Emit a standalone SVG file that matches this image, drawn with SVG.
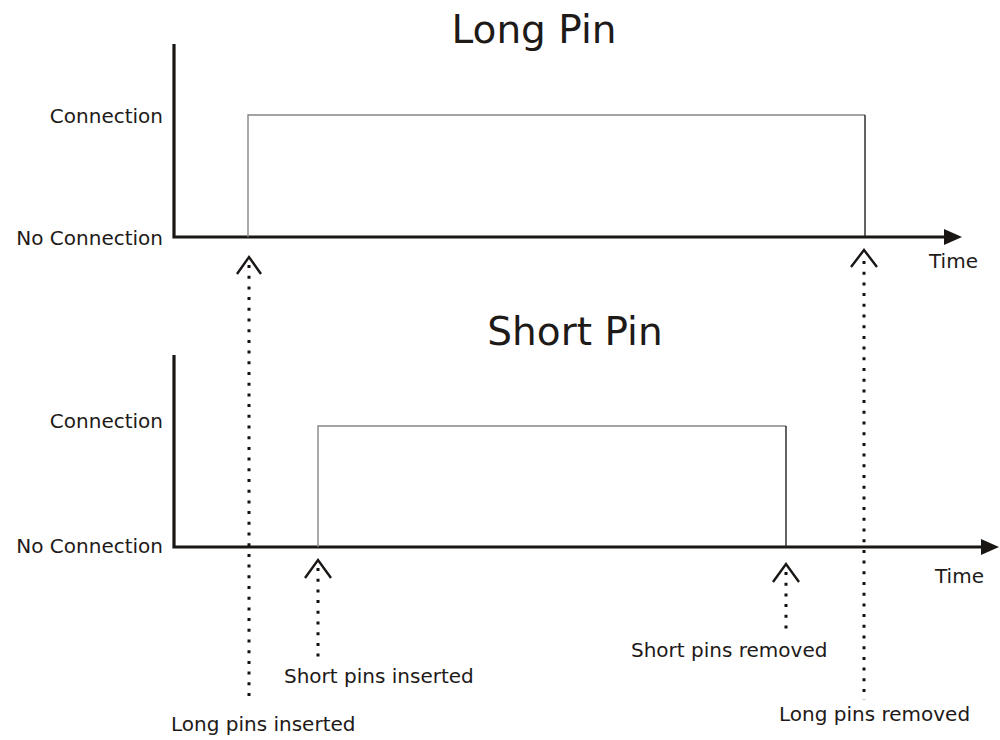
<svg xmlns="http://www.w3.org/2000/svg" width="1000" height="740" viewBox="0 0 1000 740">
  <style>
    .title { font-family: "DejaVu Sans", "Liberation Sans", sans-serif; font-size: 39px; fill: #1e1a18; text-anchor: middle; }
    .lbl { font-family: "DejaVu Sans", "Liberation Sans", sans-serif; font-size: 20px; fill: #1e1a18; }
    .right { text-anchor: end; }
    .axis { fill: none; stroke: #1a1614; stroke-width: 3.2; }
    .pulse-a { fill: none; stroke: #858585; stroke-width: 1.4; }
    .pulse-b { fill: none; stroke: #222; stroke-width: 1.4; }
    .caret { fill: none; stroke: #1a1614; stroke-width: 2.4; stroke-linejoin: miter; }
    .dots { fill: none; stroke: #111; stroke-width: 3; stroke-dasharray: 3 7.7; }
  </style>
  <defs>
    <marker id="arrow" viewBox="0 0 18 16" refX="0" refY="8" markerWidth="18" markerHeight="16" markerUnits="userSpaceOnUse" orient="auto">
      <path d="M0,0 L18,8 L0,16 Z" fill="#1a1614"/>
    </marker>
  </defs>
  <rect width="1000" height="740" fill="#ffffff"/>

  <!-- Upper timing chart: long pin -->
  <g id="long-pin-chart">
    <text class="title" x="534" y="43">Long Pin</text>
    <path class="axis" d="M174,44 V237 H944" marker-end="url(#arrow)"/>
    <path class="pulse-a" d="M248,237 V115 H865"/>
    <path class="pulse-b" d="M865,115 V237"/>
    <text class="lbl right" x="163" y="123">Connection</text>
    <text class="lbl right" x="163" y="245">No Connection</text>
    <text class="lbl" x="929" y="268">Time</text>
  </g>

  <!-- Lower timing chart: short pin -->
  <g id="short-pin-chart">
    <text class="title" x="575" y="345">Short Pin</text>
    <path class="axis" d="M174,355 V547 H981" marker-end="url(#arrow)"/>
    <path class="pulse-a" d="M318,547 V426 H786"/>
    <path class="pulse-b" d="M786,426 V547"/>
    <text class="lbl right" x="163" y="428">Connection</text>
    <text class="lbl right" x="163" y="553">No Connection</text>
    <text class="lbl" x="935" y="583">Time</text>
  </g>

  <!-- Event markers -->
  <g id="connectors">
    <g id="long-inserted">
      <polyline class="caret" points="237,274 249,257 261,274"/>
      <line class="dots" x1="249" y1="265" x2="249" y2="703"/>
    </g>
    <g id="long-removed">
      <polyline class="caret" points="851,267 864,250 877,267"/>
      <line class="dots" x1="864" y1="261" x2="864" y2="700"/>
    </g>
    <g id="short-inserted">
      <polyline class="caret" points="305,578 318,560 331,578"/>
      <line class="dots" x1="318" y1="568" x2="318" y2="658"/>
    </g>
    <g id="short-removed">
      <polyline class="caret" points="773,582 786,564 799,582"/>
      <line class="dots" x1="786" y1="572" x2="786" y2="634"/>
    </g>
  </g>

  <g id="event-labels">
    <text class="lbl" x="171" y="731">Long pins inserted</text>
    <text class="lbl" x="284" y="683">Short pins inserted</text>
    <text class="lbl" x="631" y="657">Short pins removed</text>
    <text class="lbl" x="779" y="721">Long pins removed</text>
  </g>
</svg>
